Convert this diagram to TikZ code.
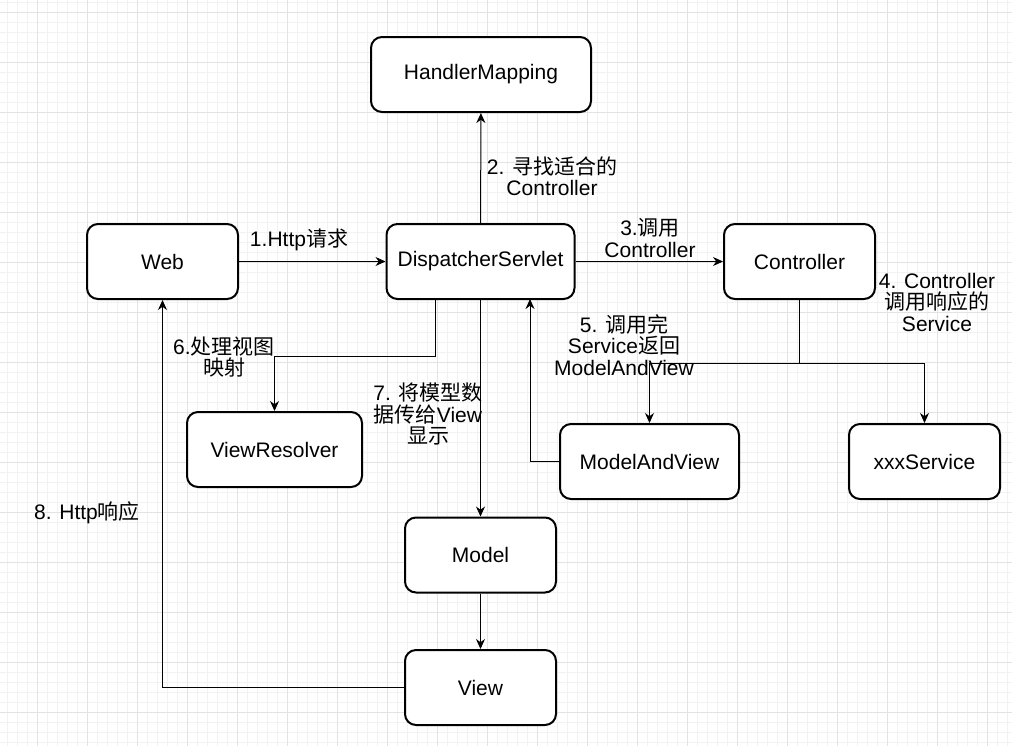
\documentclass[tikz,border=0pt]{standalone}
\usepackage{fontspec}
\setmainfont{Liberation Sans}
\newfontfamily\cjk{Noto Sans CJK SC}
\usetikzlibrary{arrows.meta}
\newcommand{\zh}[1]{{\cjk #1}}

\begin{document}
\begin{tikzpicture}[x=0.5pt, y=-0.5pt, >={Stealth[length=5pt,width=4.5pt]},
font=\fontsize{10.5pt}{10.75pt}\selectfont,
box/.style={draw, line width=1pt, rounded corners=5.5pt, inner sep=0pt,
  minimum width=75.5pt, minimum height=37.5pt, fill=white},
lbl/.style={align=center, inner sep=0pt},
flow/.style={->, line width=0.5pt},
minorgrid/.style={black!5, line width=0.5pt},
majorgrid/.style={black!11, line width=0.5pt}]

%%%%%% GRID %%%%%%%%%%

\fill[white] (0,0) rectangle (1012,746);
\useasboundingbox (0,0) rectangle (1012,746);
\foreach \i in {7,17,...,1007}{\draw[minorgrid] (\i,0) -- (\i,746);}
\foreach \i in {2,12,...,742}{\draw[minorgrid] (0,\i) -- (1012,\i);}
\foreach \i in {37,87,...,987}{\draw[majorgrid] (\i,0) -- (\i,746);}
\foreach \i in {12,62,...,712}{\draw[majorgrid] (0,\i) -- (1012,\i);}

%%%%%% BOXES %%%%%%%%%%

\node[box, minimum width=110pt] (hm) at (481,74.5) {HandlerMapping};
\node[box] (web) at (162.5,261.5) {Web};
\node[box, minimum width=94pt] (ds) at (480.5,261.5) {DispatcherServlet};
\node[box] (ctrl) at (799.5,261.5) {Controller};
\node[box, minimum width=87.5pt] (vr) at (274.5,449.5) {ViewResolver};
\node[box, minimum width=89.5pt] (mav) at (649.5,461.5) {ModelAndView};
\node[box] (svc) at (924.5,461.5) {xxxService};
\node[box] (model) at (480.5,555) {Model};
\node[box] (view) at (480.5,687.5) {View};

\coordinate (fork) at (799.5,363);
\coordinate (back) at (530,299);
\coordinate (vrout) at (435,299);
\coordinate (bend6) at (435,356);

%%%%%% ARROWS %%%%%%%%%%

\draw[flow] (web) -- (ds);
\draw[flow] (ds) -- (hm);
\draw[flow] (ds) -- (ctrl);
\draw[flow] (ctrl.south) -- (fork) -| (mav.north);
\draw[flow] (fork) -| (svc.north);
\draw[flow] (mav.west) -| (back);
\draw[flow] (vrout) -- (bend6) -| (vr.north);
\draw[flow] (ds) -- (model);
\draw[flow] (model) -- (view);
\draw[flow] (view.west) -| (web.south);

%%%%%% LABELS %%%%%%%%%%

\node[lbl] (l1) at (299,240) {1.Http\zh{请求}};
\node[lbl] (l2) at (552,176) {2. \zh{寻找适合的}\\Controller};
\node[lbl] (l3) at (650,238) {3.\zh{调用}\\Controller};
\node[lbl] (l4) at (937,302) {4. Controller\\\zh{调用响应的}\\Service};
\node[lbl] (l5) at (624,345) {5. \zh{调用完}\\Service\zh{返回}\\ModelAndView};
\node[lbl] (l6) at (224,357) {6.\zh{处理视图}\\\zh{映射}};
\node[lbl] (l7) at (428,414) {7. \zh{将模型数}\\\zh{据传给}View\\\zh{显示}};
\node[lbl] (l8) at (87,513) {8. Http\zh{响应}};

\end{tikzpicture}
\end{document}
